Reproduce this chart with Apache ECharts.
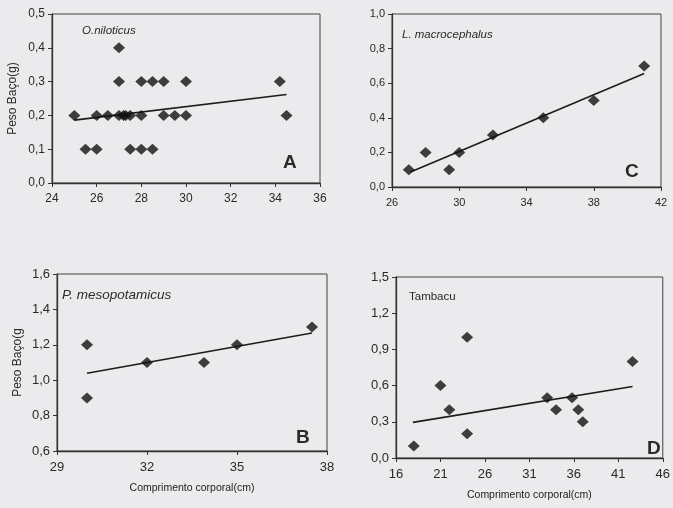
<!DOCTYPE html>
<html><head><meta charset="utf-8">
<script src="https://cdn.jsdelivr.net/npm/echarts@6/dist/echarts.min.js"></script>
<style>html,body{margin:0;padding:0;background:#ebeaec}#c{width:673px;height:508px}</style>
</head><body><div id="c"></div>
<script>
// Panel A: O.niloticus
const aX = [25,26,26.5,27,27.2,27.3,27.5,28,29,29.5,30,34.5, 27,28,28.5,29,30,34.2, 25.5,26,27.5,28,28.5, 27];
const aY = [0.2,0.2,0.2,0.2,0.2,0.2,0.2,0.2,0.2,0.2,0.2,0.2, 0.3,0.3,0.3,0.3,0.3,0.3, 0.1,0.1,0.1,0.1,0.1, 0.4];
const aTrendX = [25, 34.5];
const aTrendY = [0.186, 0.262];
const aXTicks = [24,26,28,30,32,34,36];
const aYTicks = [0,0.1,0.2,0.3,0.4,0.5];
// Panel C: L. macrocephalus
const cX = [27,28,29.4,30,32,35,38,41];
const cY = [0.1,0.2,0.1,0.2,0.3,0.4,0.5,0.7];
const cTrendX = [27.1, 41];
const cTrendY = [0.087, 0.656];
const cXTicks = [26,30,34,38,42];
const cYTicks = [0,0.2,0.4,0.6,0.8,1.0];
// Panel B: P. mesopotamicus
const bX = [30,30,32,33.9,35,37.5];
const bY = [1.2,0.9,1.1,1.1,1.2,1.3];
const bTrendX = [30, 37.5];
const bTrendY = [1.039, 1.267];
const bXTicks = [29,32,35,38];
const bYTicks = [0.6,0.8,1.0,1.2,1.4,1.6];
// Panel D: Tambacu
const dX = [18,21,22,24,24,33,34,35.8,36.5,37,42.6];
const dY = [0.1,0.6,0.4,1.0,0.2,0.5,0.4,0.5,0.4,0.3,0.8];
const dTrendX = [17.9, 42.6];
const dTrendY = [0.295, 0.592];
const dXTicks = [16,21,26,31,36,41,46];
const dYTicks = [0,0.3,0.6,0.9,1.2,1.5];

const FONT = 'Liberation Sans, Arial, sans-serif';
const TXT = '#2a2a2a';
const zip = (xs, ys) => xs.map((x, i) => [x, ys[i]]);
const comma = v => (Math.round(v * 10) / 10).toFixed(1).replace('.', ',');

const grids = [
  {left: 52, top: 14, width: 268, height: 169},
  {left: 392, top: 14, width: 269, height: 173},
  {left: 57, top: 274, width: 270, height: 177},
  {left: 396, top: 277, width: 267, height: 181}
];
const panels = [
  {xs: aX, ys: aY, tx: aTrendX, ty: aTrendY, xt: aXTicks, yt: aYTicks, fs: 12, yName: 'Peso Baço(g)', xName: ''},
  {xs: cX, ys: cY, tx: cTrendX, ty: cTrendY, xt: cXTicks, yt: cYTicks, fs: 11, yName: '', xName: ''},
  {xs: bX, ys: bY, tx: bTrendX, ty: bTrendY, xt: bXTicks, yt: bYTicks, fs: 13, yName: 'Peso Baço(g', xName: 'Comprimento corporal(cm)'},
  {xs: dX, ys: dY, tx: dTrendX, ty: dTrendY, xt: dXTicks, yt: dYTicks, fs: 13, yName: '', xName: 'Comprimento corporal(cm)'}
];

const xAxis = [], yAxis = [], series = [];
panels.forEach((p, i) => {
  xAxis.push({
    type: 'value', gridIndex: i, min: p.xt[0], max: p.xt[p.xt.length - 1],
    name: p.xName, nameLocation: 'middle', nameGap: 32,
    nameTextStyle: {fontFamily: FONT, fontSize: 10.5, color: '#222'},
    axisLine: {show: true, lineStyle: {color: '#333', width: 1.3}},
    axisTick: {show: true, length: 4, lineStyle: {color: '#333'}, customValues: p.xt},
    axisLabel: {fontFamily: FONT, fontSize: p.fs, color: TXT, margin: 10, customValues: p.xt, formatter: v => String(v)},
    splitLine: {show: false}
  });
  yAxis.push({
    type: 'value', gridIndex: i, min: p.yt[0], max: p.yt[p.yt.length - 1],
    name: p.yName, nameLocation: 'middle', nameGap: 33,
    nameTextStyle: {fontFamily: FONT, fontSize: 12, color: TXT},
    axisLine: {show: true, lineStyle: {color: '#333', width: 1.3}},
    axisTick: {show: true, length: 4, lineStyle: {color: '#333'}, customValues: p.yt},
    axisLabel: {fontFamily: FONT, fontSize: p.fs, color: TXT, margin: 7, customValues: p.yt, formatter: comma},
    splitLine: {show: false}
  });
  series.push({
    type: 'scatter', xAxisIndex: i, yAxisIndex: i, data: zip(p.xs, p.ys),
    symbol: 'diamond', symbolSize: [12, 11], itemStyle: {color: '#121212'}, z: 3
  });
  series.push({
    type: 'line', xAxisIndex: i, yAxisIndex: i, data: zip(p.tx, p.ty),
    symbol: 'none', lineStyle: {color: '#1c1c1c', width: 1.6}, z: 2
  });
});

const texts = [
  {left: 82, top: 25, text: 'O.niloticus', fs: 11.5, style: 'italic', weight: 'normal'},
  {left: 402, top: 29, text: 'L. macrocephalus', fs: 11.5, style: 'italic', weight: 'normal'},
  {left: 62, top: 288, text: 'P. mesopotamicus', fs: 13.5, style: 'italic', weight: 'normal'},
  {left: 409, top: 291, text: 'Tambacu', fs: 11.5, style: 'normal', weight: 'normal'},
  {left: 283, top: 153, text: 'A', fs: 19, style: 'normal', weight: 'bold'},
  {left: 625, top: 162, text: 'C', fs: 19, style: 'normal', weight: 'bold'},
  {left: 296, top: 428, text: 'B', fs: 19, style: 'normal', weight: 'bold'},
  {left: 647, top: 439, text: 'D', fs: 19, style: 'normal', weight: 'bold'}
];

const chart = echarts.init(document.getElementById('c'), null, {renderer: 'canvas'});
chart.setOption({
  backgroundColor: '#ebeaec',
  animation: false,
  grid: grids.map(g => Object.assign({show: true, borderColor: '#444', borderWidth: 1, backgroundColor: 'transparent'}, g)),
  xAxis, yAxis, series,
  graphic: texts.map(t => ({
    type: 'text', left: t.left, top: t.top,
    style: {text: t.text, font: `${t.style} ${t.weight} ${t.fs}px ${FONT}`, fill: TXT}
  }))
});
</script></body></html>
